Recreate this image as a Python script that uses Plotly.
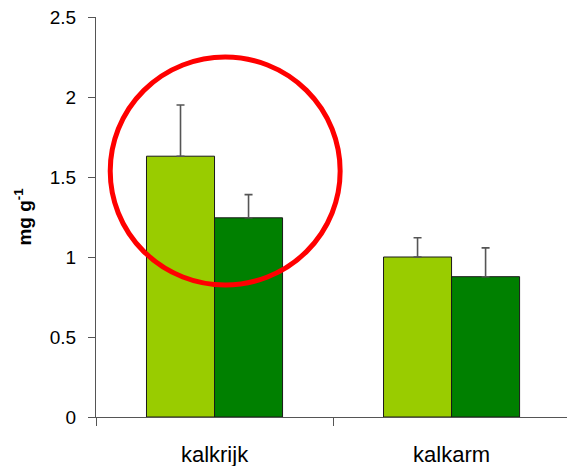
import plotly.graph_objects as go

categories = ["kalkrijk", "kalkarm"]
series_a = [1.63, 1.0]
series_a_err = [0.32, 0.12]
series_b = [1.245, 0.877]
series_b_err = [0.145, 0.18]

axis_color = "#555555"

fig = go.Figure()
for vals, errs, color in [(series_a, series_a_err, "#99CC00"),
                          (series_b, series_b_err, "#008000")]:
    fig.add_trace(go.Bar(
        x=categories, y=vals,
        marker=dict(color=color, line=dict(color="#1a1a1a", width=1)),
        error_y=dict(type="data", array=errs, arrayminus=[0] * len(errs),
                     symmetric=False, color="#555555", thickness=1.6, width=4),
        showlegend=False,
    ))

# highlight ring around the first group
fig.add_shape(type="circle", xref="x", yref="y",
              x0=-0.44, x1=0.53, y0=0.825, y1=2.25,
              line=dict(color="#FF0000", width=5))

fig.update_layout(
    width=567, height=466,
    margin=dict(l=96, r=0, t=17, b=49),
    paper_bgcolor="white", plot_bgcolor="white",
    barmode="group", bargap=0.426, bargroupgap=0,
    font=dict(family="Liberation Sans, Arial, sans-serif", color="black"),
    xaxis=dict(range=[-0.5, 1.487], showline=True, linecolor=axis_color,
               linewidth=1, ticks="outside", tickson="boundaries",
               ticklen=8, tickcolor=axis_color, tickfont=dict(size=22),
               ticklabelstandoff=18, automargin=False,
               showgrid=False, zeroline=False),
    yaxis=dict(range=[0, 2.5], dtick=0.5, showline=True, linecolor=axis_color,
               linewidth=1, ticks="outside", ticklen=7, tickcolor=axis_color,
               tickfont=dict(size=19), ticklabelstandoff=8,
               showgrid=False, zeroline=False,
               title=dict(text="<b>mg g<sup>-1</sup></b>", font=dict(size=19),
                          standoff=13)),
)

fig.write_html("out.html")
